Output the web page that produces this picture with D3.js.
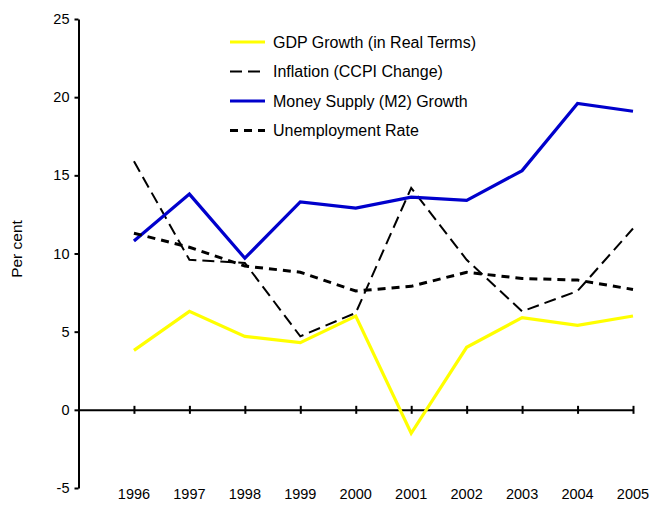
<!DOCTYPE html>
<html>
<head>
<meta charset="utf-8">
<script src="https://cdn.jsdelivr.net/npm/d3@7"></script>
<style>
  body { margin: 0; background: #fff; }
  text { font-family: "Liberation Sans", Arial, sans-serif; fill: #000; }
</style>
</head>
<body>
<svg width="651" height="516"></svg>
<script>
// data
var years = [1996, 1997, 1998, 1999, 2000, 2001, 2002, 2003, 2004, 2005];
var gdpGrowth = [3.8, 6.3, 4.7, 4.3, 6.0, -1.5, 4.0, 5.9, 5.4, 6.0];
var inflation = [15.9, 9.6, 9.4, 4.7, 6.2, 14.2, 9.6, 6.3, 7.6, 11.6];
var moneySupply = [10.8, 13.8, 9.7, 13.3, 12.9, 13.6, 13.4, 15.3, 19.6, 19.1];
var unemployment = [11.3, 10.4, 9.2, 8.8, 7.6, 7.9, 8.8, 8.4, 8.3, 7.7];
var yTicks = [-5, 0, 5, 10, 15, 20, 25];

var seriesNames = ["GDP Growth (in Real Terms)", "Inflation (CCPI Change)", "Money Supply (M2) Growth", "Unemployment Rate"];

var svg = d3.select("svg");

var x = d3.scaleLinear().domain([1995, 2005]).range([78.5, 633]);
var y = d3.scaleLinear().domain([-5, 25]).range([488, 19]);

// y axis (plain hyphen for negatives, like the original)
var yAxis = svg.append("g")
  .attr("transform", "translate(78.5,0)")
  .call(d3.axisLeft(y).tickValues(yTicks).tickSize(4).tickSizeOuter(0).tickPadding(5)
    .tickFormat(function(d){ return String(d); }));
yAxis.select(".domain").attr("stroke-width", 2);
yAxis.selectAll(".tick line").attr("stroke-width", 2);
yAxis.selectAll("text").style("font-size", "14.5px").attr("fill", "#000");

// x axis along zero
var xAxis = svg.append("g")
  .attr("transform", "translate(0," + y(0) + ")")
  .call(d3.axisBottom(x).tickValues(years).tickSize(8).tickSizeOuter(0).tickFormat(""));
xAxis.select(".domain").attr("stroke-width", 2);
xAxis.selectAll(".tick line").attr("stroke-width", 2).attr("y1", -4).attr("y2", 4);

// year labels at the bottom
svg.append("g").selectAll("text")
  .data(years)
  .enter()
  .append("text")
  .attr("x", function(d){ return x(d); })
  .attr("y", 499)
  .attr("text-anchor", "middle")
  .style("font-size", "14.5px")
  .text(function(d){ return d; });

// y axis title
svg.append("text")
  .attr("transform", "translate(22,249) rotate(-90)")
  .attr("text-anchor", "middle")
  .style("font-size", "15.5px")
  .text("Per cent");

var styles = [
  { values: gdpGrowth, color: "#ffff00", width: 3.2, dash: null },
  { values: inflation, color: "#000", width: 2, dash: "12,6" },
  { values: moneySupply, color: "#0000cc", width: 3.2, dash: null },
  { values: unemployment, color: "#000", width: 3, dash: "8,6" }
];

var line = d3.line()
  .x(function(d, i){ return x(years[i]); })
  .y(function(d){ return y(d); });

svg.append("g").selectAll("path")
  .data(styles)
  .enter()
  .append("path")
  .attr("d", function(d){ return line(d.values); })
  .attr("fill", "none")
  .attr("stroke", function(d){ return d.color; })
  .attr("stroke-width", function(d){ return d.width; })
  .attr("stroke-dasharray", function(d){ return d.dash; })
  .attr("stroke-linejoin", "miter");

// legend
var legend = svg.append("g").attr("transform", "translate(230,42)");
var rows = legend.selectAll("g")
  .data(styles)
  .enter()
  .append("g")
  .attr("transform", function(d, i){ return "translate(0," + (i * 29.5) + ")"; });
rows.append("line")
  .attr("x1", 0).attr("x2", 35)
  .attr("stroke", function(d){ return d.color; })
  .attr("stroke-width", function(d){ return d.width; })
  .attr("stroke-dasharray", function(d){ return d.dash; });
rows.append("text")
  .attr("x", 43)
  .attr("y", 5.5)
  .style("font-size", "16px")
  .text(function(d, i){ return seriesNames[i]; });
</script>
</body>
</html>
